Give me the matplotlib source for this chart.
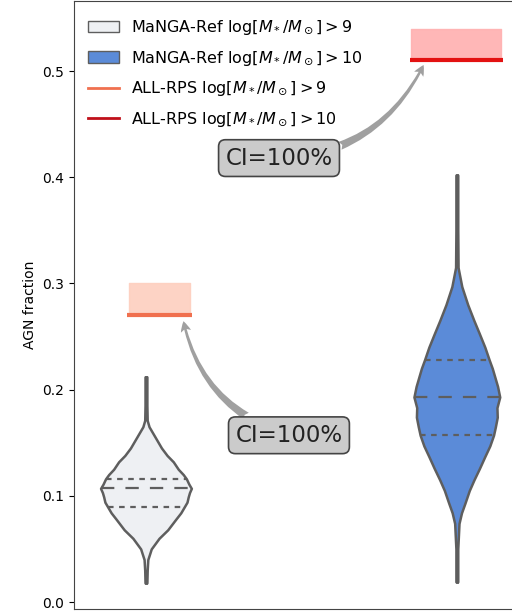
import numpy as np
import matplotlib.pyplot as plt
from matplotlib.patches import Patch
from matplotlib.lines import Line2D

# AGN-fraction distributions of the MaNGA reference samples (half-width profiles)
levels_m9 = [0.018, 0.030, 0.040, 0.050, 0.060, 0.068, 0.078, 0.084, 0.089, 0.094, 0.099,
             0.103, 0.107, 0.111, 0.116, 0.120, 0.125, 0.132, 0.138, 0.145, 0.155,
             0.165, 0.171, 0.185, 0.212]
half_m9 = [0.003, 0.004, 0.006, 0.017, 0.042, 0.070, 0.096, 0.112, 0.122, 0.132, 0.136,
           0.140, 0.146, 0.138, 0.130, 0.120, 0.104, 0.088, 0.068, 0.050, 0.030,
           0.010, 0.004, 0.003, 0.003]
levels_m10 = [0.019, 0.050, 0.074, 0.084, 0.093, 0.105, 0.115, 0.126, 0.137, 0.147, 0.157,
              0.165, 0.174, 0.183, 0.193, 0.203, 0.212, 0.220, 0.228, 0.240, 0.253,
              0.265, 0.280, 0.297, 0.315, 0.350, 0.402]
half_m10 = [0.003, 0.003, 0.007, 0.015, 0.026, 0.040, 0.055, 0.073, 0.090, 0.106, 0.118,
            0.124, 0.130, 0.129, 0.138, 0.131, 0.122, 0.114, 0.104, 0.090, 0.072,
            0.055, 0.035, 0.016, 0.004, 0.003, 0.003]
quart_m9 = [0.089, 0.107, 0.116]
quart_m10 = [0.157, 0.193, 0.228]

# ALL-RPS AGN fractions and their confidence ranges
rps_frac = [0.27, 0.51]
rps_upper = [0.30, 0.54]
rps_xspan = [(-0.06, 0.148), (0.849, 1.148)]
ci_text = ["CI=100%", "CI=100%"]

violin_colors = ["#eef0f3", "#5b8bd8"]
rps_colors = ["#f0704f", "#e31212"]
rps_fill = ["#fdcfbf", "#ffb0b0"]
edge = "#5e5e5e"

fig = plt.figure(figsize=(5.12, 6.13), dpi=100)
ax = fig.add_axes([0.1445, 0.0065, 0.861, 0.992])

profiles = [(levels_m9, half_m9, quart_m9), (levels_m10, half_m10, quart_m10)]
for pos, (lev, half, quart), col in zip([0, 1], profiles, violin_colors):
    lev = np.array(lev)
    half = np.array(half)
    ax.fill_betweenx(lev, pos - half, pos + half, facecolor=col,
                     edgecolor=edge, linewidth=1.8, zorder=2)
    ax.plot([pos, pos], [lev[0], lev[-1]], color=edge, lw=2, zorder=1)
    for i, q in enumerate(quart):
        w = np.interp(q, lev, half)
        ls = (0, (6, 5)) if i == 1 else (0, (2.5, 2.5))
        ax.plot([pos - w, pos + w], [q, q], color=edge, lw=1.6, ls=ls, zorder=3)

# RPS fractions with shaded uncertainty boxes
for (x0, x1), lo, hi, lc, fc in zip(rps_xspan, rps_frac, rps_upper, rps_colors, rps_fill):
    ax.fill_between([x0 + 0.005, x1 - 0.005], lo, hi, facecolor=fc,
                    edgecolor=fc, alpha=0.9, zorder=1)
    ax.plot([x0, x1], [lo, lo], color=lc, lw=3, solid_capstyle='butt', zorder=2)

# CI annotations
ann_xy = [(0.119, 0.267), (0.897, 0.508)]
ann_text = [(0.460, 0.157), (0.428, 0.418)]
ann_rad = [-0.3, 0.3]
for txt, xy, xyt, rad in zip(ci_text, ann_xy, ann_text, ann_rad):
    ax.annotate(txt, xy=xy, xytext=xyt, fontsize=16.5, ha='center', va='center',
                color="#222222",
                bbox=dict(boxstyle="round,pad=0.3", fc="#cbcbcb", ec="#444444", lw=1.2),
                arrowprops=dict(arrowstyle="fancy,head_length=0.5,head_width=0.5,tail_width=0.4",
                                fc="#a0a0a0", ec="none", mutation_scale=15,
                                connectionstyle=f"arc3,rad={rad}", shrinkA=0, shrinkB=2),
                zorder=5)

ax.set_xlim(-0.2315, 1.1865)
ax.set_ylim(-0.0066, 0.566)
ax.set_xticks([])
ax.set_yticks([0.0, 0.1, 0.2, 0.3, 0.4, 0.5])
ax.set_ylabel("AGN fraction")
for s in ax.spines.values():
    s.set_color("#444444")

handles = [
    Patch(facecolor=violin_colors[0], edgecolor=edge, lw=1),
    Patch(facecolor=violin_colors[1], edgecolor=edge, lw=1),
    Line2D([], [], color=rps_colors[0], lw=2),
    Line2D([], [], color="#c0101a", lw=2),
]
labels = [
    r"MaNGA-Ref log$[M_*/M_\odot]>9$",
    r"MaNGA-Ref log$[M_*/M_\odot]>10$",
    r"ALL-RPS log$[M_*/M_\odot]>9$",
    r"ALL-RPS log$[M_*/M_\odot]>10$",
]
ax.legend(handles, labels, loc='upper left', frameon=False, fontsize=11.5,
          labelspacing=0.75, handlelength=1.9, bbox_to_anchor=(0.0, 0.995))

fig.savefig("out.png", dpi=100)
